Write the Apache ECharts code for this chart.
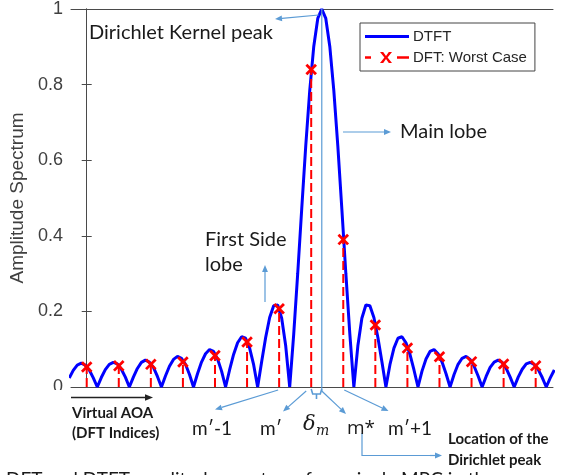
<!DOCTYPE html>
<html>
<head>
<meta charset="utf-8">
<script src="https://cdn.jsdelivr.net/npm/echarts@6/dist/echarts.min.js"></script>
<style>
html,body{margin:0;padding:0;background:#fff;}
#chart{width:567px;height:475px;}
</style>
</head>
<body>
<div id="chart"></div>
<script>
// ---------------- data ----------------
const yTicks = [0, 0.2, 0.4, 0.6, 0.8, 1];
const peakPos = 7.33;           // Dirichlet peak location, in DFT-index units
const dtftStartOffset = -7.875; // first DTFT sample, relative to the peak
const dtftStep = 0.125;         // DTFT sample spacing (DFT-index units)
const dtftValues = [
  0.024, 0.044, 0.058, 0.063, 0.058, 0.045, 0.024, 0,
  0.025, 0.046, 0.060, 0.065, 0.061, 0.047, 0.026, 0,
  0.026, 0.049, 0.065, 0.071, 0.066, 0.052, 0.028, 0,
  0.029, 0.055, 0.073, 0.081, 0.076, 0.060, 0.033, 0,
  0.035, 0.066, 0.088, 0.099, 0.094, 0.074, 0.042, 0,
  0.045, 0.086, 0.117, 0.133, 0.129, 0.103, 0.059, 0,
  0.067, 0.131, 0.184, 0.215, 0.217, 0.182, 0.109, 0,
  0.140, 0.301, 0.472, 0.638, 0.785, 0.901, 0.975,
  1,
  0.975, 0.901, 0.785, 0.638, 0.472, 0.301, 0.140, 0,
  0.109, 0.182, 0.217, 0.215, 0.184, 0.131, 0.067, 0,
  0.059, 0.103, 0.129, 0.133, 0.117, 0.086, 0.045, 0,
  0.042, 0.074, 0.094, 0.099, 0.088, 0.066, 0.035, 0,
  0.033, 0.060, 0.076, 0.081, 0.073, 0.055, 0.029, 0,
  0.028, 0.052, 0.066, 0.071, 0.065, 0.049, 0.026, 0,
  0.026, 0.047, 0.061, 0.065, 0.060, 0.046, 0.025, 0,
  0.024, 0.045
];
const dftIndices = [0,1,2,3,4,5,6,7,8,9,10,11,12,13,14];
const dftValues  = [0.053,0.056,0.060,0.066,0.083,0.119,0.207,0.840,0.390,0.164,0.103,0.080,0.067,0.061,0.056];
const xMin = -0.49, xMax = 14.54;

// ---------------- chart ----------------
const BLUE = '#0000ff', RED = '#ff0000', ANN = '#5b9bd5', AX = '#4a4a4a';
const dtftData = dtftValues.map((v, i) => [peakPos + dtftStartOffset + i * dtftStep, v]);
const dftData = dftIndices.map((k, i) => [k, dftValues[i]]);

const chart = echarts.init(document.getElementById('chart'), null, {renderer: 'canvas'});
const dtftIcon = 'path://M0,0L0.01,0L0,0.01Z M44,12L43.99,12L44,11.99Z M0,4.6h44v2.8h-44z';
const dftIcon = 'path://M0,0L0.01,0L0,0.01Z M44,12L43.99,12L44,11.99Z M0,4.7h6v2.6h-6z M15,0.5h3.2l2.8,4.1l2.8,-4.1h3.2l-4.4,5.5l4.4,5.5h-3.2l-2.8,-4.1l-2.8,4.1h-3.2l4.4,-5.5z M32,4.7h12v2.6h-12z';

const axisFont = 'Liberation Sans, Arial, sans-serif';
chart.setOption({
  animation: false,
  grid: {left: 71, top: 8.5, right: 14, bottom: 88, containLabel: false},
  legend: {
    left: 360, top: 23, orient: 'vertical',
    data: [{name: 'DTFT', icon: dtftIcon}, {name: 'DFT: Worst Case', icon: dftIcon}],
    itemWidth: 44, itemHeight: 12, itemGap: 6,
    padding: [6, 8, 6, 5],
    borderColor: '#444', borderWidth: 1, backgroundColor: '#fff',
    textStyle: {fontFamily: axisFont, fontSize: 15, color: '#262626', padding: [0,0,0,-1]}
  },
  xAxis: [
    {type: 'value', min: xMin, max: xMax, position: 'bottom',
     axisLine: {show: true, onZero: false, lineStyle: {color: AX, width: 1}},
     axisTick: {show: false}, axisLabel: {show: false}, splitLine: {show: false}},
    {type: 'value', min: xMin, max: xMax, position: 'top',
     axisLine: {show: true, onZero: false, lineStyle: {color: AX, width: 1}},
     axisTick: {show: false}, axisLabel: {show: false}, splitLine: {show: false}}
  ],
  yAxis: [
    {type: 'value', min: yTicks[0], max: yTicks[yTicks.length-1], interval: 0.2, position: 'left',
     name: 'Amplitude Spectrum', nameLocation: 'middle', nameGap: 36,
     nameTextStyle: {fontFamily: axisFont, fontSize: 19, color: '#404040'},
     axisLine: {show: true, lineStyle: {color: AX, width: 1}},
     axisTick: {show: true, inside: true, length: 5, lineStyle: {color: AX}},
     axisLabel: {fontFamily: axisFont, fontSize: 18, color: '#404040', margin: 8},
     splitLine: {show: false}},
    {type: 'value', min: yTicks[0], max: yTicks[yTicks.length-1], interval: 0.2, position: 'right',
     axisLine: {show: true, lineStyle: {color: AX, width: 1}},
     axisTick: {show: true, inside: true, length: 5, lineStyle: {color: AX}},
     axisLabel: {show: false}, splitLine: {show: false}}
  ],
  series: [
    {name: 'DTFT', type: 'line', data: dtftData, showSymbol: false, symbol: 'none',
     lineStyle: {color: BLUE, width: 3}, itemStyle: {color: BLUE}, z: 2},
    {name: 'DFT: Worst Case', type: 'custom', data: dftData, z: 3,
     itemStyle: {color: RED},
     encode: {x: 0, y: 1},
     renderItem: function (params, api) {
       const x = api.value(0), v = api.value(1);
       const p0 = api.coord([x, 0]), p1 = api.coord([x, v]);
       const s = 4.8;
       return {type: 'group', children: [
         {type: 'line', shape: {x1: p0[0], y1: p0[1], x2: p1[0], y2: p1[1]},
          style: {stroke: RED, lineWidth: 2, lineDash: [9, 4]}},
         {type: 'line', shape: {x1: p1[0]-s, y1: p1[1]-s, x2: p1[0]+s, y2: p1[1]+s},
          style: {stroke: RED, lineWidth: 2.8}},
         {type: 'line', shape: {x1: p1[0]-s, y1: p1[1]+s, x2: p1[0]+s, y2: p1[1]-s},
          style: {stroke: RED, lineWidth: 2.8}}
       ]};
     }}
  ]
});

// ---------------- annotations ----------------
function px(x, y) { return chart.convertToPixel({xAxisIndex: 0, yAxisIndex: 0}, [x, y]); }
function arrow(x1, y1, x2, y2, color, w, head) {
  head = head || 7;
  const ang = Math.atan2(y2 - y1, x2 - x1);
  const hw = head * 0.42;
  const bx = x2 - head * Math.cos(ang), by = y2 - head * Math.sin(ang);
  const nx = -Math.sin(ang), ny = Math.cos(ang);
  return [
    {type: 'line', shape: {x1: x1, y1: y1, x2: bx, y2: by}, style: {stroke: color, lineWidth: w}, z: 50},
    {type: 'polygon', shape: {points: [[x2, y2], [bx + nx*hw, by + ny*hw], [bx - nx*hw, by - ny*hw]]},
     style: {fill: color}, z: 50}
  ];
}
function txt(x, y, s, opt) {
  return Object.assign({type: 'text', x: x, y: y, z: 60,
    style: Object.assign({text: s, fill: '#1a1a1a', font: '20px Lato, sans-serif',
      textVerticalAlign: 'middle', textAlign: 'left'}, opt || {})});
}

const pk = px(peakPos, 0), s6 = px(6, 0), s7 = px(7, 0), s8 = px(8, 0);
const axisY = pk[1];
const topY = px(peakPos, 1)[1];
const midB = (s7[0] + pk[0]) / 2;
let g = [];
// vertical guide at the peak
g.push({type: 'line', shape: {x1: pk[0], y1: topY, x2: pk[0], y2: axisY + 4}, style: {stroke: ANN, lineWidth: 1.2}, z: 50});
// delta_m bracket
g.push({type: 'polyline', shape: {points: [[s7[0], axisY + 2], [s7[0] + 1.5, axisY + 7], [pk[0] - 1.5, axisY + 7], [pk[0], axisY + 2]]},
        style: {stroke: ANN, lineWidth: 1.6, fill: null}, z: 50});
g.push({type: 'line', shape: {x1: midB, y1: axisY + 7, x2: midB, y2: axisY + 12}, style: {stroke: ANN, lineWidth: 1.6}, z: 50});
// arrows below the axis
g = g.concat(arrow(s6[0] - 1, axisY + 3, 215, 409.5, ANN, 1.2));
g = g.concat(arrow(s7[0] - 5, axisY + 4, 283, 411.5, ANN, 1.2));
g = g.concat(arrow(pk[0], axisY + 4, 346, 414, ANN, 1.2));
g = g.concat(arrow(s8[0] + 1, axisY + 3, 388.5, 411, ANN, 1.2));
// peak / main lobe / side lobe arrows
g = g.concat(arrow(pk[0] - 3, 15, 275, 19, ANN, 1.2));
g = g.concat(arrow(343, 132, 391, 132, ANN, 1.2));
g = g.concat(arrow(265, 302, 265, 265, ANN, 1.2));
// location of the Dirichlet peak
g.push({type: 'polyline', shape: {points: [[362, 433], [362, 455.5], [436, 455.5]]}, style: {stroke: ANN, lineWidth: 1.2, fill: null}, z: 50});
g = g.concat(arrow(430, 455.5, 442, 455.5, ANN, 1.2));
// virtual AOA arrow
g = g.concat(arrow(71, 397.5, 153, 397.5, '#222', 1.4, 8));
// cover the lower part of the "0" tick label (as in the reference)
g.push({type: 'rect', shape: {x: 30, y: 390, width: 39, height: 6}, style: {fill: '#fff'}, z: 40});

// texts
g.push(txt(89, 33, 'Dirichlet Kernel peak'));
g.push(txt(400, 132, 'Main lobe'));
g.push(txt(205, 240, 'First Side'));
g.push(txt(205, 265, 'lobe'));
g.push(txt(212, 429, 'm\u2032-1', {textAlign: 'center', font: '19px Lato, sans-serif'}));
g.push(txt(271, 429, 'm\u2032', {textAlign: 'center', font: '19px Lato, sans-serif'}));
g.push(txt(303, 425, '\u03b4', {font: 'italic 21px "DejaVu Serif", serif'}));
g.push(txt(316, 431, 'm', {font: 'italic 14px "DejaVu Serif", serif'}));
g.push(txt(361, 429, 'm*', {textAlign: 'center', font: '19px "Open Sans", sans-serif'}));
g.push(txt(410, 429, 'm\u2032+1', {textAlign: 'center', font: '19px Lato, sans-serif'}));
g.push(txt(72, 413, 'Virtual AOA', {font: 'bold 15px Lato, sans-serif'}));
g.push(txt(72, 433, '(DFT Indices)', {font: 'bold 15px Lato, sans-serif'}));
g.push(txt(448, 439, 'Location of the', {font: 'bold 15px Lato, sans-serif'}));
g.push(txt(448, 460, 'Dirichlet peak', {font: 'bold 15px Lato, sans-serif'}));
g.push(txt(-14, 480, 'b) DFT and DTFT amplitude spectrum for a single MPC in the', {font: '19px Lato, sans-serif'}));

chart.setOption({graphic: g});
</script>
</body>
</html>
